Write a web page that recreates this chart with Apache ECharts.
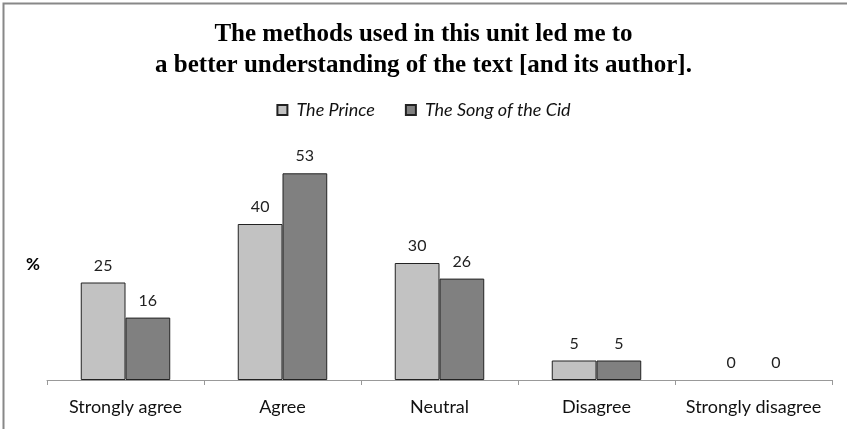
<!DOCTYPE html>
<html>
<head>
<meta charset="utf-8">
<script src="https://cdn.jsdelivr.net/npm/echarts@6/dist/echarts.min.js"></script>
<style>
  html, body { margin: 0; padding: 0; background: #ffffff; }
  #chart { width: 847px; height: 429px; }
</style>
</head>
<body>
<div id="chart"></div>
<script>
// Survey responses (percent) per answer option
const categories = ['Strongly agree', 'Agree', 'Neutral', 'Disagree', 'Strongly disagree'];
const princeValues = [25, 40, 30, 5, 0];
const cidValues = [16, 53, 26, 5, 0];
const seriesNames = ['The Prince', 'The Song of the Cid'];

const labelFont = 'Lato, "Open Sans", sans-serif';

const chart = echarts.init(document.getElementById('chart'), null, { renderer: 'canvas' });

const barLabel = {
  show: true,
  position: 'top',
  distance: 9,
  fontFamily: labelFont,
  fontSize: 16,
  color: '#222'
};

// empty bars get no outline, so a zero value leaves only its label
const toBarData = values => values.map(v => (v === 0 ? { value: v, itemStyle: { borderWidth: 0 } } : v));

chart.setOption({
  animation: false,
  backgroundColor: '#ffffff',
  title: {
    text: 'The methods used in this unit led me to\na better understanding of the text [and its author].',
    left: 'center',
    top: 14,
    textStyle: {
      fontFamily: '"Liberation Serif", "Times New Roman", serif',
      fontWeight: 'bold',
      fontSize: 25,
      lineHeight: 31,
      color: '#000'
    }
  },
  legend: {
    top: 96,
    left: 'center',
    itemWidth: 10,
    itemHeight: 10,
    itemGap: 30,
    icon: 'rect',
    textStyle: {
      fontFamily: labelFont,
      fontStyle: 'italic',
      fontSize: 18,
      color: '#111',
      padding: [0, 0, 0, 4]
    },
    data: seriesNames
  },
  grid: {
    left: 47,
    right: 15,
    top: 146,
    bottom: 49,
    containLabel: false
  },
  xAxis: {
    type: 'category',
    data: categories,
    axisLine: { lineStyle: { color: '#999', width: 1 } },
    axisTick: { show: true, length: 5, lineStyle: { color: '#999' } },
    axisLabel: {
      fontFamily: labelFont,
      fontSize: 18,
      color: '#111',
      margin: 18,
      interval: 0
    }
  },
  yAxis: {
    type: 'value',
    min: 0,
    max: 60,
    show: false,
    splitLine: { show: false }
  },
  graphic: [
    {
      type: 'text',
      left: 26,
      top: 256,
      style: {
        text: '%',
        fontFamily: labelFont,
        fontWeight: 'bold',
        fontSize: 17,
        fill: '#000'
      }
    },
    {
      type: 'polyline',
      silent: true,
      shape: { points: [[3.5, 429], [3.5, 3.5], [847, 3.5]] },
      style: { stroke: '#888', lineWidth: 2, fill: null }
    }
  ],
  series: [
    {
      name: seriesNames[0],
      type: 'bar',
      data: toBarData(princeValues),
      barGap: '0%',
      barCategoryGap: '43%',
      itemStyle: { color: '#c2c2c2', borderColor: '#222', borderWidth: 1 },
      label: barLabel
    },
    {
      name: seriesNames[1],
      type: 'bar',
      data: toBarData(cidValues),
      barGap: '0%',
      barCategoryGap: '43%',
      itemStyle: { color: '#808080', borderColor: '#222', borderWidth: 1 },
      label: barLabel
    }
  ]
});
</script>
</body>
</html>
